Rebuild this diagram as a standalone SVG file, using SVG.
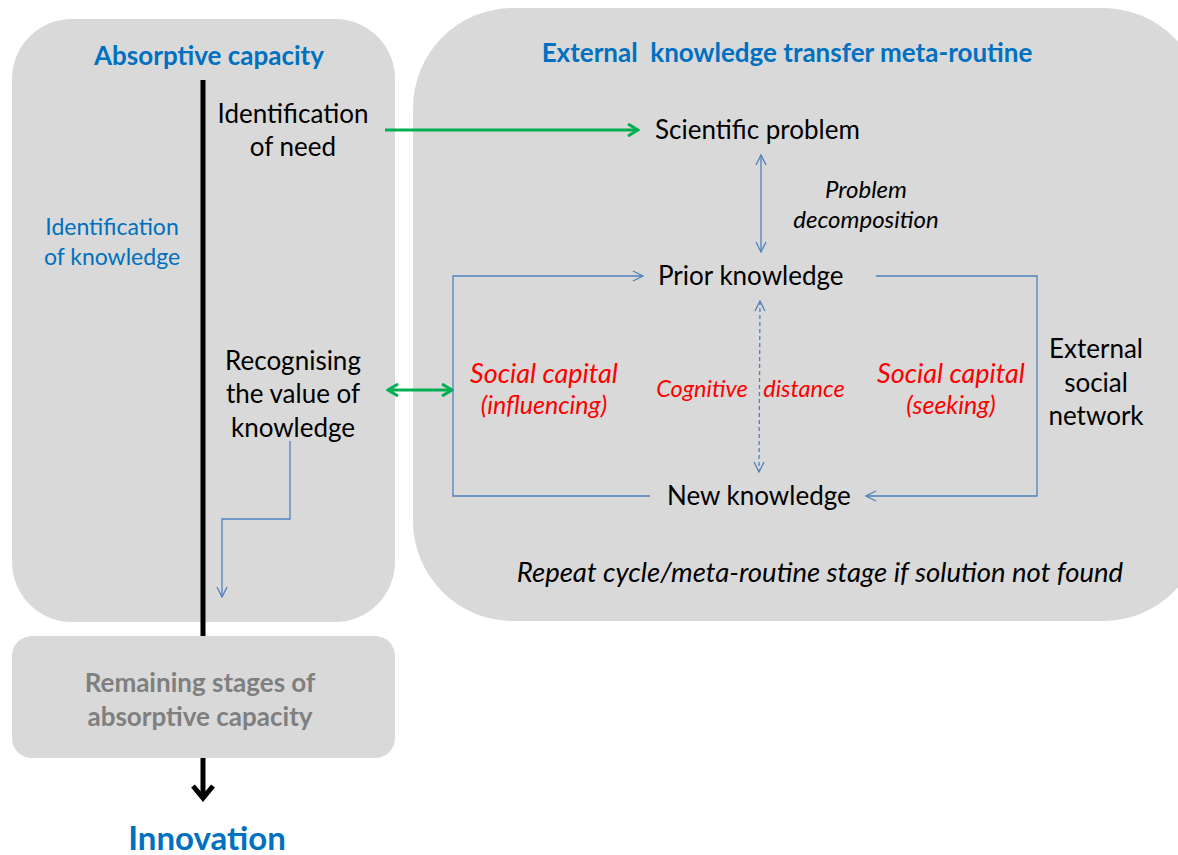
<svg xmlns="http://www.w3.org/2000/svg" width="1178" height="855" viewBox="0 0 1178 855">
<style>
text{font-family:Lato,"Open Sans","Liberation Sans",sans-serif;}
.box{fill:#d9d9d9;}
.t{fill:#000;font-size:26px;}
.bt{fill:#0070c0;font-weight:bold;font-size:26px;}
.bl{fill:#0070c0;font-size:23px;}
.red{fill:#ff0000;font-style:italic;}
.it{font-style:italic;fill:#000;}
.gray{fill:#7f7f7f;font-weight:bold;font-size:26px;}
.blue{stroke:#4f81bd;stroke-width:1.3;fill:none;}
.green{stroke:#00b050;stroke-width:3;fill:none;}
</style>
<defs>
<marker id="ab" viewBox="0 0 12 12" refX="11" refY="6" markerWidth="12" markerHeight="12" markerUnits="userSpaceOnUse" orient="auto-start-reverse"><path d="M1,1 L11,6 L1,11" fill="none" stroke="#4f81bd" stroke-width="1.3"/></marker>
<marker id="ag" viewBox="0 0 14 14" refX="12" refY="7" markerWidth="14" markerHeight="14" markerUnits="userSpaceOnUse" orient="auto-start-reverse"><path d="M2,1 L12,7 L2,13" fill="none" stroke="#00b050" stroke-width="3"/></marker>
</defs>
<g id="absorptive-box">
<rect class="box" x="12" y="19" width="383" height="603" rx="60"/>
<text class="bt" x="209" y="65" text-anchor="middle">Absorptive capacity</text>
</g>
<g id="meta-routine-box">
<rect class="box" x="413" y="8" width="790" height="613" rx="100"/>
<text class="bt" x="787" y="62" text-anchor="middle" xml:space="preserve">External  knowledge transfer meta-routine</text>
</g>
<g id="remaining-box">
<rect class="box" x="12" y="636" width="383" height="122" rx="20"/>
<text class="gray" x="200" y="692" text-anchor="middle">Remaining stages of</text>
<text class="gray" x="200" y="726" text-anchor="middle">absorptive capacity</text>
</g>
<g id="identification-need">
<text class="t" x="293" y="123" text-anchor="middle">Identification</text>
<text class="t" x="293" y="156" text-anchor="middle">of need</text>
</g>
<g id="identification-knowledge">
<text class="bl" x="112" y="235" text-anchor="middle">Identification</text>
<text class="bl" x="112" y="265" text-anchor="middle">of knowledge</text>
</g>
<g id="recognising">
<text class="t" x="293" y="370" text-anchor="middle">Recognising</text>
<text class="t" x="293" y="403" text-anchor="middle">the value of</text>
<text class="t" x="293" y="437" text-anchor="middle">knowledge</text>
</g>
<g id="scientific-problem"><text class="t" x="655" y="139">Scientific problem</text></g>
<g id="problem-decomposition">
<text class="it" font-size="24" x="866" y="198" text-anchor="middle">Problem</text>
<text class="it" font-size="24" x="866" y="228" text-anchor="middle">decomposition</text>
</g>
<g id="prior-knowledge"><text class="t" x="658" y="285">Prior knowledge</text></g>
<g id="new-knowledge"><text class="t" x="667" y="505">New knowledge</text></g>
<g id="cognitive-distance">
<text class="red" font-size="23.5" x="702" y="397" text-anchor="middle">Cognitive</text>
<text class="red" font-size="23.5" x="804" y="397" text-anchor="middle">distance</text>
</g>
<g id="social-capital-influencing">
<text class="red" font-size="27" x="544" y="383" text-anchor="middle">Social capital</text>
<text class="red" font-size="25" x="544" y="414" text-anchor="middle">(influencing)</text>
</g>
<g id="social-capital-seeking">
<text class="red" font-size="27" x="951" y="383" text-anchor="middle">Social capital</text>
<text class="red" font-size="25" x="951" y="414" text-anchor="middle">(seeking)</text>
</g>
<g id="external-social-network">
<text class="t" x="1096" y="358" text-anchor="middle">External</text>
<text class="t" x="1096" y="392" text-anchor="middle">social</text>
<text class="t" x="1096" y="425" text-anchor="middle">network</text>
</g>
<g id="repeat-note"><text class="it" font-size="27.5" x="820" y="582" text-anchor="middle">Repeat cycle/meta-routine stage if solution not found</text></g>
<g id="innovation"><text x="207" y="850" text-anchor="middle" font-size="33" font-weight="bold" fill="#0070c0">Innovation</text></g>
<g id="connectors">
<line x1="203" y1="80" x2="203" y2="636" stroke="#000" stroke-width="5"/>
<line x1="203" y1="758" x2="203" y2="798" stroke="#000" stroke-width="5"/>
<path d="M193,786 L203,798 L213,786" fill="none" stroke="#000" stroke-width="5"/>
<line class="green" x1="385" y1="130" x2="638" y2="130" marker-end="url(#ag)"/>
<line class="green" x1="388" y1="390" x2="452" y2="390" marker-start="url(#ag)" marker-end="url(#ag)"/>
<line class="blue" x1="761" y1="155" x2="761" y2="252" marker-start="url(#ab)" marker-end="url(#ab)"/>
<line class="blue" x1="760" y1="301" x2="759" y2="472" stroke-dasharray="4,3" marker-start="url(#ab)" marker-end="url(#ab)"/>
<path class="blue" d="M650,496 L453,496 L453,276 L643,276" marker-end="url(#ab)"/>
<path class="blue" d="M876,276 L1037,276 L1037,496 L866,496" marker-end="url(#ab)"/>
<path class="blue" d="M290,441 L290,519 L222,519 L222,597" marker-end="url(#ab)"/>
</g>
</svg>
